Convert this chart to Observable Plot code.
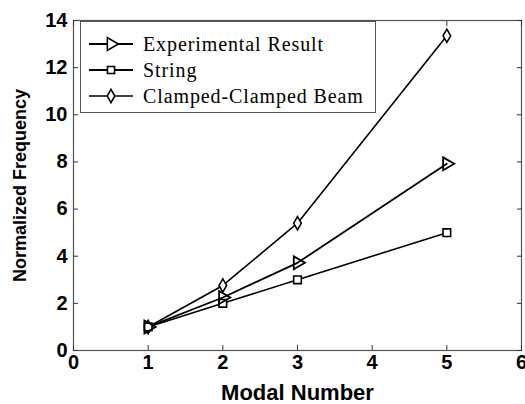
<!DOCTYPE html>
<html><head><meta charset="utf-8">
<script src="https://cdn.jsdelivr.net/npm/d3@7"></script>
<script src="https://cdn.jsdelivr.net/npm/@observablehq/plot@0.6"></script>
<style>
body{margin:0;background:#fff;}
#wrap{position:relative;width:525px;height:404px;}
#legend{position:absolute;left:80px;top:21px;width:296px;height:92px;border:1px solid #555;background:#fff;box-sizing:border-box;font-family:"Liberation Serif","DejaVu Serif",serif;font-size:20px;letter-spacing:0.9px;color:#000;}
.row{position:absolute;left:6px;height:20px;display:flex;align-items:center;white-space:nowrap;}
.row svg{margin-right:10px;}
</style>
</head><body>
<div id="wrap"><div id="chart"></div><div id="legend"></div></div>
<script>
const modes = [1, 2, 3, 5];
const experimental = [1, 2.25, 3.72, 7.92];
const stringModel = [1, 2, 3, 5];
const clampedBeam = [1, 2.76, 5.4, 13.35];
const seriesNames = ["Experimental Result", "String", "Clamped-Clamped Beam"];
const xTicks = [0, 1, 2, 3, 4, 5, 6];
const yTicks = [0, 2, 4, 6, 8, 10, 12, 14];

const rows = [];
[experimental, stringModel, clampedBeam].forEach((vals, i) => {
  modes.forEach((m, j) => rows.push({series: seriesNames[i], x: m, y: vals[j]}));
});
const exp = rows.filter(d => d.series === seriesNames[0]);
const str = rows.filter(d => d.series === seriesNames[1]);
const cl = rows.filter(d => d.series === seriesNames[2]);

const plot = Plot.plot({
  width: 525, height: 404,
  marginLeft: 73, marginRight: 4, marginTop: 20, marginBottom: 54,
  style: {fontFamily: "'Liberation Sans', Arial, sans-serif", fontWeight: "bold", fontSize: "16px", color: "#000", background: "#fff"},
  x: {domain: [0, 6]},
  y: {domain: [0, 14]},
  marks: [
    Plot.frame({stroke: "#555", strokeWidth: 1.2}),
    Plot.axisX(xTicks, {anchor: "bottom", tickSize: -5, tickPadding: 9, label: null, fontSize: 20, fontWeight: "bold", stroke: "#333"}),
    Plot.axisX(xTicks, {anchor: "top", tickSize: -5, text: null, label: null, stroke: "#333"}),
    Plot.axisY(yTicks, {anchor: "left", tickSize: -5, tickPadding: 11, label: null, fontSize: 20, fontWeight: "bold", stroke: "#333"}),
    Plot.axisY(yTicks, {anchor: "right", tickSize: -5, text: null, label: null, stroke: "#333"}),
    Plot.text(["Modal Number"], {frameAnchor: "bottom", dy: 42, lineAnchor: "middle", textAnchor: "middle", fontSize: 22, fontWeight: "bold"}),
    Plot.text(["Normalized Frequency"], {frameAnchor: "left", dx: -53, rotate: -90, textAnchor: "middle", lineAnchor: "middle", fontSize: 18, fontWeight: "bold"}),
    Plot.line(cl, {x: "x", y: "y", stroke: "#000", strokeWidth: 1.6}),
    Plot.line(exp, {x: "x", y: "y", stroke: "#000", strokeWidth: 1.8}),
    Plot.line(str, {x: "x", y: "y", stroke: "#000", strokeWidth: 1.6}),
    Plot.dot(cl, {x: "x", y: "y", symbol: "diamond", r: 4, stroke: "#000", strokeWidth: 1.6, fill: "#fff"}),
    Plot.dot(str, {x: "x", y: "y", symbol: "square", r: 4.3, stroke: "#000", strokeWidth: 1.6, fill: "#fff"}),
    Plot.dot(exp, {x: "x", y: "y", symbol: "triangle", rotate: 90, r: 4.8, stroke: "#000", strokeWidth: 1.8, fill: "none"})
  ]
});
document.getElementById("chart").appendChild(plot);

// legend
const symbolsL = [d3.symbolTriangle, d3.symbolSquare, d3.symbolDiamond];
const rotL = [90, 0, 0];
const widthsL = [2.2, 2.2, 1.4];
const legend = document.getElementById("legend");
seriesNames.forEach((name, i) => {
  const row = document.createElement("div");
  row.className = "row";
  row.style.top = (12 + i * 26) + "px";
  const sym = d3.symbol(symbolsL[i], i === 0 ? 70 : 50)();
  row.innerHTML = `<svg width="46" height="20"><line x1="2" x2="46" y1="10" y2="10" stroke="#000" stroke-width="${widthsL[i]}"/><path d="${sym}" transform="translate(24,10) rotate(${rotL[i]})" fill="#fff" stroke="#000" stroke-width="1.6"/></svg><span>${name}</span>`;
  legend.appendChild(row);
});
</script>
</body></html>
